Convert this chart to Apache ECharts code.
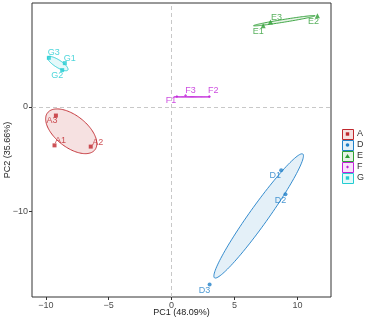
<!DOCTYPE html>
<html><head><meta charset="utf-8">
<script src="https://cdn.jsdelivr.net/npm/echarts@6/dist/echarts.min.js"></script>
<style>html,body{margin:0;padding:0;background:#fff}#c{width:371px;height:325px}</style>
</head><body><div id="c"></div>
<script>
// ---- data ----
const groups = ['A', 'D', 'E', 'F', 'G'];
const sampleNames = {
  A: ['A1', 'A2', 'A3'],
  D: ['D1', 'D2', 'D3'],
  E: ['E1', 'E2', 'E3'],
  F: ['F1', 'F2', 'F3'],
  G: ['G1', 'G2', 'G3']
};
const pc1 = {
  A: [-9.31, -6.43, -9.20],
  D: [8.71, 9.05, 3.02],
  E: [7.28, 11.59, 7.86],
  F: [0.42, 2.99, 1.11],
  G: [-8.49, -8.70, -9.76]
};
const pc2 = {
  A: [-3.69, -3.81, -0.83],
  D: [-6.09, -8.37, -17.05],
  E: [7.79, 8.75, 8.14],
  F: [0.99, 0.99, 1.09],
  G: [4.20, 3.53, 4.71]
};
// confidence ellipses: centre (x,y), semi-axis vector u, conjugate semi-axis vector v (data units)
const ellipseCenter = { A: [-7.98, -2.34], D: [6.92, -10.46], E: [8.96, 8.27], F: [1.62, 0.96], G: [-9.05, 4.16] };
const ellipseU = { A: [1.88, -1.78], D: [3.51, 5.94], E: [2.45, 0.48], F: [1.45, 0.0], G: [0.80, -0.62] };
const ellipseV = { A: [-0.78, -1.2], D: [0.6, -0.52], E: [0.015, -0.13], F: [0.0, 0.03], G: [-0.16, -0.3] };
const xTicks = [-10, -5, 0, 5, 10];
const yTicks = [-10, 0];
const xName = 'PC1 (48.09%)';
const yName = 'PC2 (35.66%)';

// ---- style ----
const colors = { A: '#C0272D', D: '#2080C8', E: '#2E9E34', F: '#C020D8', G: '#22CCD2' };
const fills = { A: 'rgba(192,39,45,0.14)', D: 'rgba(32,128,200,0.12)', E: 'rgba(46,158,52,0.12)', F: 'rgba(192,32,216,0.12)', G: 'rgba(34,204,210,0.12)' };
const symbols = { A: 'rect', D: 'circle', E: 'triangle', F: 'diamond', G: 'rect' };
const symSize = { A: 4, D: 4, E: 5, F: 3, G: 4 };
const labelOffset = {
  A1: [6, -5], A2: [7, -4], A3: [-4, 5],
  D1: [-6, 5], D2: [-5, 6], D3: [-5, 6],
  E1: [-5, 6], E2: [-4, 6], E3: [6, -5],
  F1: [-6, 4], F2: [4, -6], F3: [5, -5],
  G1: [5, -5], G2: [-5, 5], G3: [5, -5]
};
const FONT = 'Liberation Sans, Arial, sans-serif';

const series = [];
groups.forEach(g => {
  series.push({
    type: 'custom',
    name: g + '_ell',
    coordinateSystem: 'cartesian2d',
    silent: true,
    z: 1,
    data: [[ellipseCenter[g][0], ellipseCenter[g][1], ellipseU[g][0], ellipseU[g][1], ellipseV[g][0], ellipseV[g][1]]],
    encode: { x: 0, y: 1 },
    renderItem: (params, api) => {
      const cx = api.value(0), cy = api.value(1), ux = api.value(2), uy = api.value(3), vx = api.value(4), vy = api.value(5);
      const pts = [];
      for (let i = 0; i < 120; i++) {
        const t = i / 120 * Math.PI * 2;
        pts.push(api.coord([cx + ux * Math.cos(t) + vx * Math.sin(t), cy + uy * Math.cos(t) + vy * Math.sin(t)]));
      }
      return { type: 'polygon', shape: { points: pts }, style: { fill: fills[g], stroke: colors[g], lineWidth: 0.9 } };
    }
  });
});
groups.forEach(g => {
  series.push({
    type: 'scatter',
    name: g,
    z: 3,
    symbol: symbols[g],
    symbolSize: symSize[g],
    itemStyle: { color: colors[g] },
    label: { show: true, color: colors[g], fontSize: 9, fontFamily: FONT, formatter: p => p.data.name, position: 'inside' },
    data: pc1[g].map((x, i) => {
      const n = sampleNames[g][i];
      return { name: n, value: [x, pc2[g][i]], label: { offset: labelOffset[n] } };
    })
  });
});
series.push({
  type: 'scatter', data: [], silent: true, z: 0,
  markLine: {
    silent: true, symbol: 'none', animation: false,
    label: { show: false },
    lineStyle: { type: [4, 3], color: '#c8c8c8', width: 1 },
    data: [{ xAxis: 0 }, { yAxis: 0 }]
  }
});

// legend drawn as keys
const graphics = [];
groups.forEach((g, i) => {
  const y = 129 + i * 11;
  graphics.push({ type: 'rect', left: 342, top: y, shape: { width: 11, height: 10 }, style: { fill: fills[g], stroke: colors[g], lineWidth: 1 } });
  const sym = symbols[g];
  if (sym === 'triangle') {
    graphics.push({ type: 'polygon', shape: { points: [[347.5, y + 3], [345, y + 7], [350, y + 7]] }, style: { fill: colors[g] } });
  } else if (sym === 'circle') {
    graphics.push({ type: 'circle', shape: { cx: 347.5, cy: y + 5, r: 1.8 }, style: { fill: colors[g] } });
  } else if (sym === 'diamond') {
    graphics.push({ type: 'polygon', shape: { points: [[347.5, y + 3.5], [349, y + 5], [347.5, y + 6.5], [346, y + 5]] }, style: { fill: colors[g] } });
  } else {
    graphics.push({ type: 'rect', shape: { x: 345.8, y: y + 3.3, width: 3.4, height: 3.4 }, style: { fill: colors[g] } });
  }
  graphics.push({ type: 'text', left: 357, top: y + 0.5, style: { text: g, fill: '#333', font: '9px ' + FONT } });
});

const chart = echarts.init(document.getElementById('c'), null, { renderer: 'canvas' });
chart.setOption({
  animation: false,
  backgroundColor: '#fff',
  grid: { left: 32, right: 40, top: 3, bottom: 28, show: true, borderColor: '#333', borderWidth: 1, backgroundColor: '#fff', containLabel: false, outerBoundsMode: 'none' },
  xAxis: {
    type: 'value', min: -11.1, max: 12.67,
    name: xName, nameLocation: 'middle', nameGap: 11.5, nameMoveOverlap: false,
    nameTextStyle: { fontSize: 9, color: '#222', fontFamily: FONT },
    axisLine: { show: false, onZero: false },
    splitLine: { show: false },
    axisTick: { show: true, length: 3, lineStyle: { color: '#333' }, customValues: xTicks },
    axisLabel: { fontSize: 9, color: '#4d4d4d', margin: 4, fontFamily: FONT, customValues: xTicks, formatter: v => (v < 0 ? '\u2212' + Math.abs(v) : String(v)) }
  },
  yAxis: {
    type: 'value', min: -18.24, max: 9.97,
    name: yName, nameLocation: 'middle', nameGap: 19.5, nameRotate: 90, nameMoveOverlap: false,
    nameTextStyle: { fontSize: 9, color: '#222', fontFamily: FONT },
    axisLine: { show: false, onZero: false },
    splitLine: { show: false },
    axisTick: { show: true, length: 3, lineStyle: { color: '#333' }, customValues: yTicks },
    axisLabel: { fontSize: 9, color: '#4d4d4d', margin: 4, fontFamily: FONT, customValues: yTicks, formatter: v => (v < 0 ? '\u2212' + Math.abs(v) : String(v)) }
  },
  graphic: graphics,
  series: series
});
</script>
</body></html>
